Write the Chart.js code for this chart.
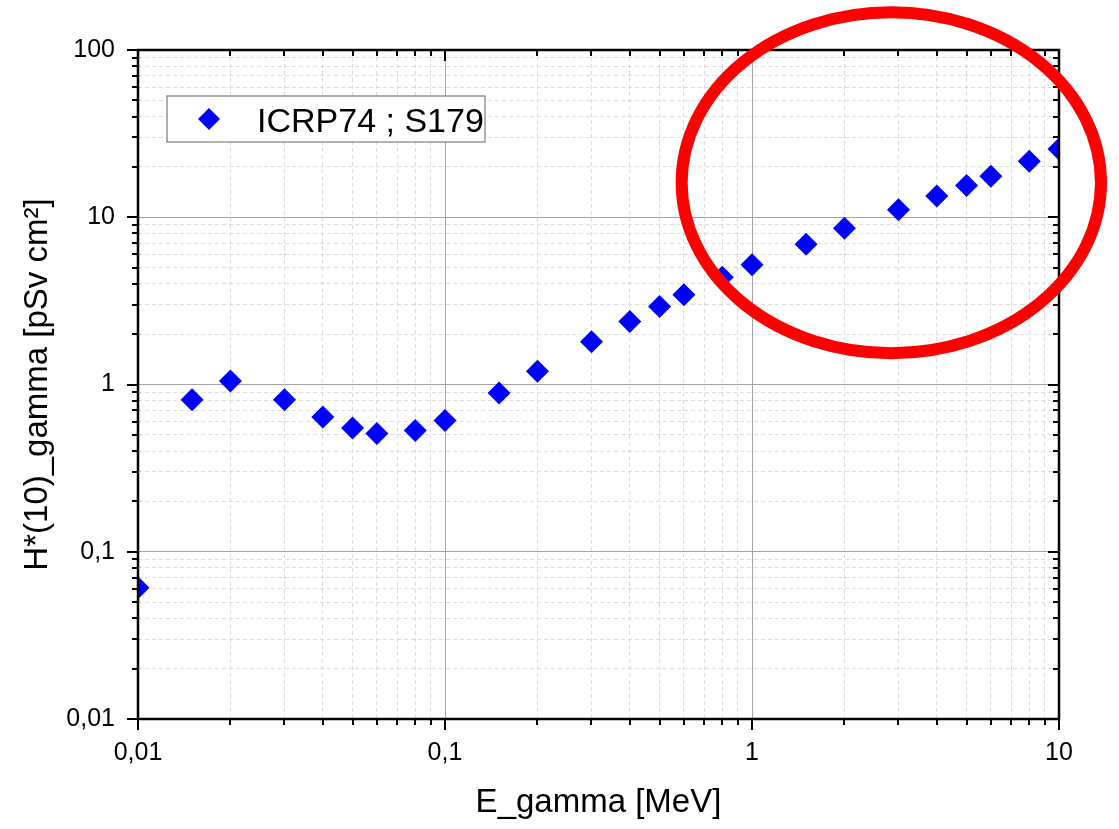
<!DOCTYPE html>
<html>
<head>
<meta charset="utf-8">
<title>H*(10)_gamma</title>
<script src="https://cdn.jsdelivr.net/npm/chart.js@4.4.1/dist/chart.umd.min.js"></script>
<style>
  html, body { margin: 0; padding: 0; background: #fff; }
  #wrap { width: 1119px; height: 829px; position: relative; }
</style>
</head>
<body>
<div id="wrap"><canvas id="chart"></canvas></div>
<script>
// ICRP74 ; S179 - photon conversion coefficients
const energies = [0.01, 0.015, 0.02, 0.03, 0.04, 0.05, 0.06, 0.08, 0.1, 0.15, 0.2, 0.3, 0.4, 0.5, 0.6, 0.8, 1, 1.5, 2, 3, 4, 5, 6, 8, 10];
const hValues = [0.061, 0.81, 1.05, 0.81, 0.64, 0.55, 0.51, 0.53, 0.61, 0.89, 1.2, 1.8, 2.38, 2.93, 3.44, 4.38, 5.2, 6.9, 8.6, 11.1, 13.4, 15.5, 17.6, 21.6, 25.6];
const seriesLabel = 'ICRP74 ; S179';

const xDecades = [0.01, 0.1, 1, 10];
const xTickLabels = ['0,01', '0,1', '1', '10'];
const yDecades = [0.01, 0.1, 1, 10, 100];
const yTickLabels = ['0,01', '0,1', '1', '10', '100'];

// red highlight ring, bounding box in data units
const ringX = [0.59, 13.7];
const ringY = [1.54, 168];

const FONT = "'Liberation Sans', Arial, sans-serif";
const BLUE = '#0000ff';

// majors at each decade, minors 2..9 in between
function logTicks(decades) {
  const out = [];
  decades.forEach((d, i) => {
    out.push({ value: d, major: true });
    if (i < decades.length - 1) {
      for (let k = 2; k < 10; k++) out.push({ value: +(d * k).toPrecision(3), major: false });
    }
  });
  return out;
}

const gridColor = ctx => (ctx.tick && ctx.tick.major ? '#a3a3a3' : '#dcdcdc');
const gridDash = ctx => (ctx.tick && ctx.tick.major ? [] : [4, 3]);

const framePlugin = {
  id: 'frame',
  afterDraw(chart) {
    const { ctx, chartArea: a, scales } = chart;
    const xs = scales.x, ys = scales.y;
    ctx.save();

    // tick marks: outward on left/bottom, inward on top/right
    ctx.strokeStyle = '#000';
    ctx.lineWidth = 2;
    ctx.beginPath();
    xs.ticks.forEach(t => {
      const px = Math.round(xs.getPixelForValue(t.value));
      const len = t.major ? 11 : 6;
      ctx.moveTo(px, a.bottom); ctx.lineTo(px, a.bottom + len);
      ctx.moveTo(px, a.top); ctx.lineTo(px, a.top + len);
    });
    ys.ticks.forEach(t => {
      const py = Math.round(ys.getPixelForValue(t.value));
      const len = t.major ? 11 : 6;
      ctx.moveTo(a.left, py); ctx.lineTo(a.left - len, py);
      ctx.moveTo(a.right, py); ctx.lineTo(a.right - len, py);
    });
    ctx.stroke();

    // plot frame
    ctx.lineWidth = 2.5;
    ctx.strokeRect(a.left, a.top, a.right - a.left, a.bottom - a.top);

    // legend box inside the plot
    const bx = a.left + 29, by = a.top + 46, bw = 318, bh = 46;
    ctx.fillStyle = '#fff';
    ctx.fillRect(bx, by, bw, bh);
    ctx.strokeStyle = '#7a7a7a';
    ctx.lineWidth = 1.2;
    ctx.strokeRect(bx, by, bw, bh);
    const ds = chart.data.datasets[0];
    ctx.fillStyle = ds.backgroundColor;
    Chart.helpers.drawPoint(ctx, { pointStyle: 'rectRot', radius: 11, rotation: 0, borderWidth: 0 }, bx + 42, by + 23);
    ctx.fillStyle = '#000';
    ctx.font = '34px ' + FONT;
    ctx.textBaseline = 'alphabetic';
    ctx.textAlign = 'left';
    ctx.fillText(ds.label, bx + 90, by + 36);

    // red ring annotation
    const x0 = xs.getPixelForValue(ringX[0]), x1 = xs.getPixelForValue(ringX[1]);
    const y0 = ys.getPixelForValue(ringY[1]), y1 = ys.getPixelForValue(ringY[0]);
    ctx.strokeStyle = '#ff0000';
    ctx.lineWidth = 12;
    ctx.beginPath();
    ctx.ellipse((x0 + x1) / 2, (y0 + y1) / 2, (x1 - x0) / 2, (y1 - y0) / 2, 0, 0, Math.PI * 2);
    ctx.stroke();

    ctx.restore();
  }
};

new Chart(document.getElementById('chart'), {
  type: 'scatter',
  data: {
    datasets: [{
      label: seriesLabel,
      data: energies.map((e, i) => ({ x: e, y: hValues[i] })),
      backgroundColor: BLUE,
      borderWidth: 0,
      pointStyle: 'rectRot',
      pointRadius: 11.5,
      pointHoverRadius: 11.5,
      clip: 0
    }]
  },
  options: {
    responsive: true,
    maintainAspectRatio: false,
    animation: false,
    layout: { padding: { top: 50, right: 60, left: 0, bottom: 0 } },
    plugins: { legend: { display: false }, tooltip: { enabled: false } },
    scales: {
      x: {
        type: 'logarithmic',
        min: 0.01,
        max: 10,
        afterBuildTicks: s => { s.ticks = logTicks(xDecades); },
        afterFit: s => { s.height = 110; },
        ticks: {
          autoSkip: false,
          maxRotation: 0,
          padding: 19,
          color: '#000',
          font: { family: FONT, size: 25 },
          callback: (v, i, t) => (t[i].major ? xTickLabels[xDecades.indexOf(v)] : '')
        },
        grid: { color: gridColor, lineWidth: 1, drawTicks: false },
        border: { display: false, dash: gridDash },
        title: {
          display: true,
          text: 'E_gamma [MeV]',
          color: '#000',
          font: { family: FONT, size: 33 },
          padding: { top: 0, bottom: 6 }
        }
      },
      y: {
        type: 'logarithmic',
        min: 0.01,
        max: 100,
        afterBuildTicks: s => { s.ticks = logTicks(yDecades); },
        afterFit: s => { s.width = 138; },
        ticks: {
          autoSkip: false,
          padding: 23,
          color: '#000',
          font: { family: FONT, size: 25 },
          callback: (v, i, t) => (t[i].major ? yTickLabels[yDecades.indexOf(v)] : '')
        },
        grid: { color: gridColor, lineWidth: 1, drawTicks: false },
        border: { display: false, dash: gridDash },
        title: {
          display: true,
          text: 'H*(10)_gamma [pSv cm²]',
          color: '#000',
          font: { family: FONT, size: 33 },
          padding: { top: 18, bottom: 0 }
        }
      }
    }
  },
  plugins: [framePlugin]
});
</script>
</body>
</html>
